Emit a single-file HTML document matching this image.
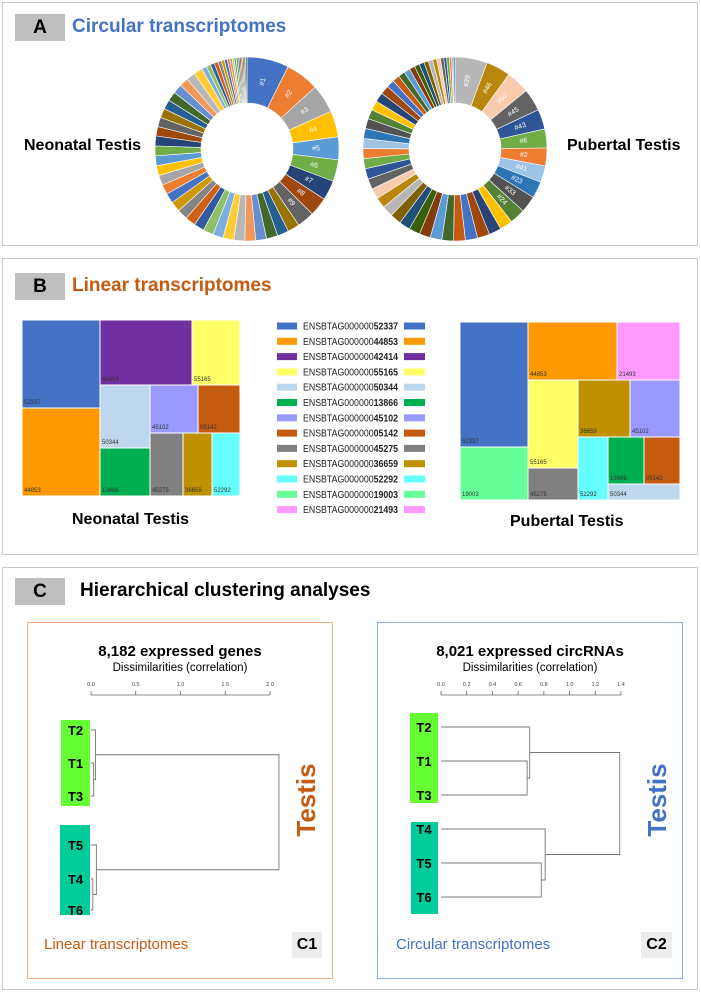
<!DOCTYPE html>
<html><head><meta charset="utf-8">
<style>
body{margin:0;width:701px;height:993px;background:#fff;font-family:"Liberation Sans",sans-serif;position:relative;overflow:hidden}
.panel{position:absolute;border:1.5px solid #c8c8c8;box-sizing:border-box}
.hdr{position:absolute;background:#bfbfbf;font-weight:bold;font-size:19px;text-align:center;color:#000}
.ttl{position:absolute;font-weight:bold;font-size:19px;white-space:nowrap}
.lbl{position:absolute;font-weight:bold;font-size:16px;white-space:nowrap}
svg{position:absolute;left:0;top:0}
</style></head><body>
<div class="panel" style="left:2px;top:2px;width:696px;height:244px"></div>
<div class="hdr" style="left:15px;top:14px;width:50px;height:27px;line-height:27px">A</div>
<div class="ttl" style="left:72px;top:16px;color:#4472c4">Circular transcriptomes</div>
<div class="lbl" style="left:24px;top:137px">Neonatal Testis</div>
<div class="lbl" style="left:567px;top:137px">Pubertal Testis</div>

<div class="panel" style="left:2px;top:258px;width:696px;height:297px"></div>
<div class="hdr" style="left:15px;top:273px;width:50px;height:27px;line-height:27px">B</div>
<div class="ttl" style="left:72px;top:275px;color:#c55a11">Linear transcriptomes</div>
<div class="lbl" style="left:72px;top:511px">Neonatal Testis</div>
<div class="lbl" style="left:510px;top:513px">Pubertal Testis</div>

<div class="panel" style="left:2px;top:567px;width:696px;height:423px"></div>
<div class="hdr" style="left:15px;top:578px;width:50px;height:27px;line-height:27px">C</div>
<div class="ttl" style="left:80px;top:580px;color:#000">Hierarchical clustering analyses</div>
<div class="panel" style="left:27px;top:622px;width:306px;height:357px;border-color:#f4b183"></div>
<div class="panel" style="left:377px;top:622px;width:306px;height:357px;border-color:#8faadc"></div>
<div class="lbl" style="left:44px;top:936px;color:#c55a11;font-weight:normal;font-size:15px">Linear transcriptomes</div>
<div class="lbl" style="left:396px;top:936px;color:#4472c4;font-weight:normal;font-size:15px">Circular transcriptomes</div>
<div class="hdr" style="left:292px;top:932px;width:30px;height:26px;line-height:26px;font-size:16px;background:#ececec">C1</div>
<div class="hdr" style="left:641px;top:932px;width:31px;height:26px;line-height:26px;font-size:16px;background:#ececec">C2</div>

<svg id="s" width="701" height="993"></svg>
<script>
// Donut data (percent shares)
const neoLabels=["#1","#2","#3","#4","#5","#6","#7","#8","#9"];
const neoValues=[8.5,6.8,5.8,5.3,4.6,4.4,4.0,3.8,3.5,2.4,2.3,2.3,2.2,2.2,2.2,2.2,2.1,2.1,2.1,2.1,2.1,2.1,2.0,2.0,2.0,2.0,2.0,2.0,2.0,1.9,1.9,1.9,1.9,1.9,1.9,1.8,1.8,1.8,1.0,0.9,0.8,0.8,0.7,0.6,0.6,0.5,0.5,0.4,0.4,0.4,0.3,0.3,0.3,0.3,0.3,0.3];
const pubLabels=["#39","#46","#50","#45","#43","#6","#2","#41","#23","#33","#24"];
const pubValues=[5.8,4.4,4.2,4.0,3.6,3.4,3.2,3.0,3.0,3.0,2.8,2.3,2.2,2.2,2.2,2.1,2.1,2.1,2.0,2.0,2.0,2.0,2.0,1.9,1.9,1.9,1.9,1.8,1.8,1.8,1.8,1.8,1.7,1.7,1.7,1.6,1.4,1.3,1.2,1.1,1.0,0.9,0.9,0.8,0.8,0.7,0.7,0.6,0.5,0.5,0.4,0.3,0.3];
const pal=["#4472C4","#ED7D31","#A5A5A5","#FFC000","#5B9BD5","#70AD47","#264478","#9E480E","#636363","#997300","#255E91","#43682B","#698ED0","#F1975A","#B7B7B7","#FFCD33","#7CAFDD","#8CC168","#335AA1","#D26012","#848484","#CC9A00"];
const pubPal=["#B7B7B7","#B8860B","#F8CBAD","#636363","#2F5597","#70AD47","#ED7D31","#9DC3E6","#2E75B6","#525252","#548235","#FFC000","#264478","#9E480E","#4472C4","#C55A11","#43682B","#5B9BD5","#843C0C","#3A5F0B","#1F4E79","#7F6000"];

// Treemap data
const tmGenes=["52337","44853","42414","55165","50344","13866","45102","05142","45275","36659","52292","19003","21493"];
const tmColors=["#4472C4","#FF9900","#7030A0","#FFFF66","#BDD7EE","#00B050","#9999FF","#C55A11","#808080","#BF9000","#66FFFF","#66FF99","#FF99FF"];
const neoTiles=[["52337",22,320,100,408],["44853",22,408,100,496],["42414",100,320,192,385],["55165",192,320,240,385],["50344",100,385,150,448],["45102",150,385,198,433],["05142",198,385,240,433],["13866",100,448,150,496],["45275",150,433,183,496],["36659",183,433,212,496],["52292",212,433,240,496]];
const pubTiles=[["52337",460,322,528,447],["19003",460,447,528,500],["44853",528,322,617,380],["21493",617,322,680,380],["55165",528,380,578,468],["36659",578,380,630,437],["45102",630,380,680,437],["45275",528,468,578,500],["52292",578,437,608,500],["13866",608,437,644,484],["05142",644,437,680,484],["50344",608,484,680,500]];

// Dendrogram data
const c1Ticks=[0,0.5,1.0,1.5,2.0];
const c1Leaves=["T2","T1","T3","T5","T4","T6"];
const c1Merges=[[1,2,0.03],[0,6,0.05],[4,5,0.02],[3,8,0.06],[7,9,2.1]];
const c2Ticks=[0,0.2,0.4,0.6,0.8,1.0,1.2,1.4];
const c2Leaves=["T2","T1","T3","T4","T5","T6"];
const c2Merges=[[1,2,0.67],[0,6,0.69],[4,5,0.78],[3,8,0.81],[7,9,1.39]];

const S=document.getElementById('s');const NS="http://www.w3.org/2000/svg";
function el(t,a,p){const e=document.createElementNS(NS,t);for(const k in a)e.setAttribute(k,a[k]);(p||S).appendChild(e);return e;}

function donut(cx,cy,R,r,vals,labels,colors,name){
  const g=el('g',{});
  
  
  const tot=vals.reduce((a,b)=>a+b,0);let a0=0;
  vals.forEach((v,i)=>{
    const a1=a0+v/tot*2*Math.PI;
    const p=(a,rr)=>[cx+rr*Math.sin(a),cy-rr*Math.cos(a)];
    const [x1,y1]=p(a0,R),[x2,y2]=p(a1,R),[x3,y3]=p(a1,r),[x4,y4]=p(a0,r);
    const lg=(a1-a0)>Math.PI?1:0;
    const s=el('path',{d:`M${x1},${y1}A${R},${R} 0 ${lg} 1 ${x2},${y2}L${x3},${y3}A${r},${r} 0 ${lg} 0 ${x4},${y4}Z`,fill:colors[i%colors.length],stroke:'#fff','stroke-width':0.6},g);
    
    
    if(labels[i]){const am=(a0+a1)/2;const [tx,ty]=p(am,(R+r)/2);
      const t=el('text',{x:tx,y:ty,'font-size':7,fill:'#fff','text-anchor':'middle','dominant-baseline':'middle',transform:`rotate(${am*180/Math.PI-90+ (am>Math.PI?180:0)} ${tx} ${ty})`},g);t.textContent=labels[i];
      
      }
    a0=a1;});
}
donut(247,149,92,46,neoValues,neoLabels,pal,'neonatal-donut');
donut(455,149,92,46,pubValues,pubLabels,pubPal,'pubertal-donut');

function treemap(tiles,name){
  tiles.forEach(t=>{const c=tmColors[tmGenes.indexOf(t[0])];
    const r=el('rect',{x:t[1],y:t[2],width:t[3]-t[1],height:t[4]-t[2],fill:c,stroke:'#fff','stroke-width':1});
    
    
    const tx=el('text',{x:t[1]+2,y:t[4]-4,'font-size':6,fill:'#333'});tx.textContent=t[0];
    
    });
}
treemap(neoTiles,'neonatal-treemap');treemap(pubTiles,'pubertal-treemap');

tmGenes.forEach((g,i)=>{const y=326+i*15.3;
  const a=el('rect',{x:277,y:y-3.5,width:20,height:7,fill:tmColors[i]});
  
  
  const b=el('rect',{x:404,y:y-3.5,width:21,height:7,fill:tmColors[i]});
  
  
  const t=el('text',{x:303,y:y+3.5,'font-size':10,fill:'#222',textLength:95,lengthAdjust:'spacingAndGlyphs'});
  t.innerHTML='ENSBTAG000000<tspan font-weight="bold">'+g+'</tspan>';
  
  });

function dendro(cx,title,x0,x1,tmax,ticks,leaves,merges,leafY,boxes,testisColor,testisX,name){
  const sx=v=>x0+(x1-x0)*v/tmax;
  const tt=el('text',{x:cx,y:656,'font-size':15,'font-weight':'bold','text-anchor':'middle'});tt.textContent=title;
  
  const st=el('text',{x:cx,y:671,'font-size':11.5,'text-anchor':'middle'});st.textContent='Dissimilarities (correlation)';
  
  el('line',{x1:sx(0),x2:sx(ticks[ticks.length-1]),y1:695,y2:695,stroke:'#666','stroke-width':0.8});
  ticks.forEach(v=>{el('line',{x1:sx(v),x2:sx(v),y1:691,y2:695,stroke:'#666','stroke-width':0.8});
    const t=el('text',{x:sx(v),y:686,'font-size':5.5,'text-anchor':'middle',fill:'#444'});t.textContent=v.toFixed(1);
    });
  boxes.forEach(b=>{const r=el('rect',{x:b[0],y:b[1],width:b[2],height:b[3],fill:b[4]});
    });
  const ny=leafY.slice(),nx=leaves.map(()=>sx(0));
  leaves.forEach((l,i)=>{const t=el('text',{x:(boxes[0][0]+boxes[0][2]/2),y:leafY[i]+5,'font-size':13,'font-weight':'bold','text-anchor':'middle'});t.textContent=l;
    });
  merges.forEach(m=>{const h=sx(m[2]);const a=m[0],b=m[1];
    const p=el('path',{d:`M${nx[a]},${ny[a]}H${h}V${ny[b]}H${nx[b]}`,fill:'none',stroke:'#777','stroke-width':0.9});
    
    ny.push((ny[a]+ny[b])/2);nx.push(h);});
  const te=el('text',{x:testisX,y:800,'font-size':26,'font-weight':'bold',fill:testisColor,'text-anchor':'middle',transform:`rotate(-90 ${testisX} 800)`});te.textContent='Testis';
  
}
dendro(180,'8,182 expressed genes',91,270,2.0,c1Ticks,c1Leaves,c1Merges,[730,763,796,845,879,910],[[61,720,29,86,'#66FF33'],[60,825,30,90,'#00CC99']],'#c55a11',315,'c1-dendrogram');
dendro(530,'8,021 expressed circRNAs',441,621,1.4,c2Ticks,c2Leaves,c2Merges,[727,761,795,829,863,897],[[410,713,28,90,'#66FF33'],[411,822,27,92,'#00CC99']],'#4472c4',666,'c2-dendrogram');
</script>
</body></html>
